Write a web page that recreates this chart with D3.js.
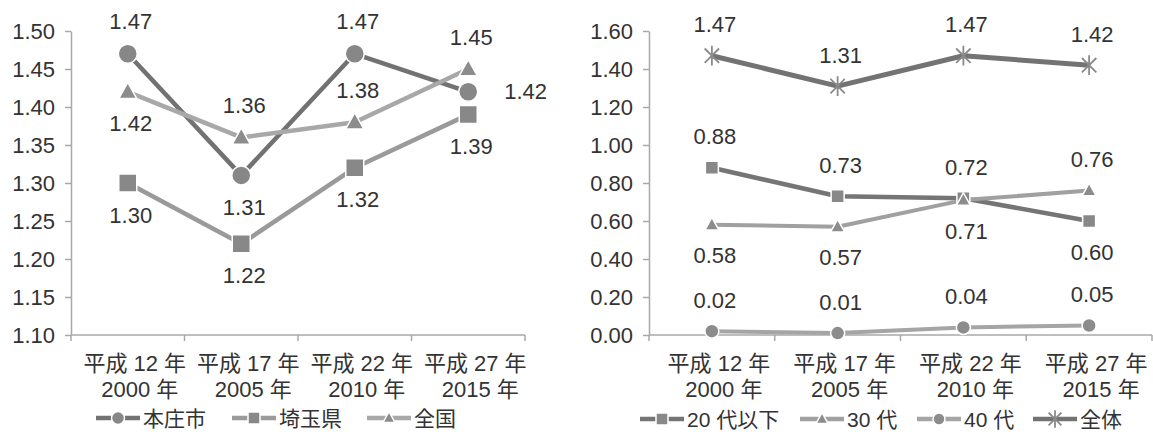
<!DOCTYPE html>
<html>
<head>
<meta charset="utf-8">
<script src="https://cdn.jsdelivr.net/npm/d3@7/dist/d3.min.js"></script>
<style>
  html, body { margin: 0; padding: 0; background: #fff; }
  svg { display: block; }
  text { font-family: "Liberation Sans", "Noto Sans CJK JP", sans-serif; fill: #333; }
</style>
</head>
<body>
<svg id="chart" width="1153" height="432"></svg>
<script>
// Category labels (two lines each)
const yearsJp = ["平成 12 年", "平成 17 年", "平成 22 年", "平成 27 年"];
const yearsAd = ["2000 年", "2005 年", "2010 年", "2015 年"];

// Left chart: total fertility rate by area
const leftTicks = [1.10, 1.15, 1.20, 1.25, 1.30, 1.35, 1.40, 1.45, 1.50];
const honjo = [1.47, 1.31, 1.47, 1.42];
const saitama = [1.30, 1.22, 1.32, 1.39];
const national = [1.42, 1.36, 1.38, 1.45];

// Right chart: fertility rate by mother's age group
const rightTicks = [0.00, 0.20, 0.40, 0.60, 0.80, 1.00, 1.20, 1.40, 1.60];
const age20 = [0.88, 0.73, 0.72, 0.60];
const age30 = [0.58, 0.57, 0.71, 0.76];
const age40 = [0.02, 0.01, 0.04, 0.05];
const allAges = [1.47, 1.31, 1.47, 1.42];

// Data label placement per point
const honjoPos = ["top", "bottom", "top", "right"];
const saitamaPos = ["bottom", "bottom", "bottom", "bottom"];
const nationalPos = ["bottom", "top", "top", "top"];
const age20Pos = ["top", "top", "top", "bottom"];
const age30Pos = ["bottom", "bottom", "bottom", "top"];
const age40Pos = ["top", "top", "top", "top"];
const allPos = ["top", "top", "top", "top"];

const svg = d3.select("#chart");
const axisColor = "#a8a8a8";
const fmt = d3.format(".2f");
const fontSize = 22;

function markerPath(shape, size) {
  const h = size / 2;
  if (shape === "circle") return d3.symbol(d3.symbolCircle, Math.PI * h * h)();
  if (shape === "square") return `M${-h},${-h}H${h}V${h}H${-h}Z`;
  if (shape === "triangle") return `M0,${-h * 1.05}L${h},${h * 0.75}L${-h},${h * 0.75}Z`;
  if (shape === "star") {
    const d = h * 0.8;
    return `M${-d},${-d}L${d},${d}M${d},${-d}L${-d},${d}M0,${-h * 1.1}L0,${h * 1.1}`;
  }
}

function drawMarker(g, s, x, y) {
  const p = g.append("path").attr("d", markerPath(s.shape, s.size))
    .attr("transform", `translate(${x},${y})`);
  if (s.shape === "star") {
    p.attr("fill", "none").attr("stroke", s.markColor).attr("stroke-width", 1.8);
  } else {
    p.attr("fill", s.markColor).attr("stroke", "#fff").attr("stroke-width", 1.5);
  }
}

function drawChart(cfg) {
  const g = svg.append("g");
  const x = d3.scaleBand().domain(yearsJp).range(cfg.xRange);
  const y = d3.scaleLinear().domain(cfg.yDomain).range([335, 31]);

  // y axis
  const yAxis = g.append("g").attr("transform", `translate(${cfg.xRange[0]},0)`)
    .call(d3.axisLeft(y).tickValues(cfg.ticks).tickSize(6).tickSizeOuter(0).tickPadding(10).tickFormat(fmt));
  yAxis.selectAll("path, line").attr("stroke", axisColor).attr("stroke-width", 1.5);
  yAxis.selectAll("text").attr("font-size", fontSize).style("fill", "#333");

  // x axis with ticks at category boundaries
  const xAxis = g.append("g").attr("transform", `translate(0,${y(cfg.yDomain[0])})`);
  xAxis.append("line").attr("x1", cfg.xRange[0]).attr("x2", cfg.xRange[1])
    .attr("stroke", axisColor).attr("stroke-width", 1.5);
  const bounds = yearsJp.map(c => x(c)).concat([cfg.xRange[1]]);
  xAxis.selectAll("line.tk").data(bounds).join("line").attr("class", "tk")
    .attr("x1", d => d).attr("x2", d => d).attr("y1", 0).attr("y2", 6)
    .attr("stroke", axisColor).attr("stroke-width", 1.5);
  const lab = xAxis.selectAll("g.lab").data(yearsJp).join("g").attr("class", "lab")
    .attr("transform", d => `translate(${x(d) + x.bandwidth() / 2},0)`);
  lab.append("text").attr("text-anchor", "middle").attr("font-size", fontSize)
    .attr("x", 7).attr("y", 36).text(d => d);
  lab.append("text").attr("text-anchor", "middle").attr("font-size", fontSize)
    .attr("x", 12).attr("y", 62).text((d, i) => yearsAd[i]);

  const cx = i => x(yearsJp[i]) + x.bandwidth() / 2;

  // series lines
  cfg.series.forEach(s => {
    const line = d3.line().x((d, i) => cx(i)).y(d => y(d));
    g.append("path").datum(s.values).attr("d", line)
      .attr("fill", "none").attr("stroke", s.lineColor).attr("stroke-width", s.lineWidth)
      .attr("stroke-linejoin", "round");
  });
  // markers
  cfg.series.forEach(s => {
    s.values.forEach((v, i) => drawMarker(g, s, cx(i), y(v)));
  });
  // data labels
  cfg.series.forEach(s => {
    s.values.forEach((v, i) => {
      const pos = s.pos[i];
      const t = g.append("text").attr("font-size", fontSize).attr("dominant-baseline", "central")
        .text(fmt(v));
      if (pos === "right") {
        t.attr("text-anchor", "start").attr("x", cx(i) + 36).attr("y", y(v));
      } else {
        t.attr("text-anchor", "middle").attr("x", cx(i) + 3)
          .attr("y", y(v) + (pos === "top" ? -cfg.labelOff : cfg.labelOff));
      }
    });
  });

  // legend
  const lg = g.append("g");
  cfg.series.forEach((s, k) => {
    const lx = cfg.legendX[k];
    const ly = cfg.legendY;
    lg.append("line").attr("x1", lx).attr("x2", lx + 44).attr("y1", ly).attr("y2", ly)
      .attr("stroke", s.lineColor).attr("stroke-width", 4.5);
    drawMarker(lg, Object.assign({}, s, { size: s.legendSize }), lx + 22, ly);
    lg.append("text").attr("font-size", 21).attr("dominant-baseline", "central")
      .attr("x", lx + 47).attr("y", ly).text(s.name);
  });
}

drawChart({
  xRange: [71, 525],
  yDomain: [1.10, 1.50],
  ticks: leftTicks,
  labelOff: 32,
  legendY: 418,
  legendX: [96, 232, 367],
  series: [
    { name: "本庄市", values: honjo, pos: honjoPos, shape: "circle", size: 19, legendSize: 13,
      lineColor: "#727272", markColor: "#878787", lineWidth: 4.5 },
    { name: "埼玉県", values: saitama, pos: saitamaPos, shape: "square", size: 18, legendSize: 12,
      lineColor: "#9a9a9a", markColor: "#888888", lineWidth: 4.5 },
    { name: "全国", values: national, pos: nationalPos, shape: "triangle", size: 18, legendSize: 12,
      lineColor: "#a8a8a8", markColor: "#8c8c8c", lineWidth: 4.5 }
  ]
});

drawChart({
  xRange: [649, 1152],
  yDomain: [0, 1.6],
  ticks: rightTicks,
  labelOff: 31,
  legendY: 419,
  legendX: [640, 800, 917, 1033],
  series: [
    { name: "20 代以下", values: age20, pos: age20Pos, shape: "square", size: 13, legendSize: 12,
      lineColor: "#757575", markColor: "#888888", lineWidth: 4.5 },
    { name: "30 代", values: age30, pos: age30Pos, shape: "triangle", size: 14, legendSize: 12,
      lineColor: "#a0a0a0", markColor: "#8c8c8c", lineWidth: 4 },
    { name: "40 代", values: age40, pos: age40Pos, shape: "circle", size: 14, legendSize: 12,
      lineColor: "#a5a5a5", markColor: "#8c8c8c", lineWidth: 4 },
    { name: "全体", values: allAges, pos: allPos, shape: "star", size: 18, legendSize: 16,
      lineColor: "#737373", markColor: "#8a8a8a", lineWidth: 5 }
  ]
});
</script>
</body>
</html>
